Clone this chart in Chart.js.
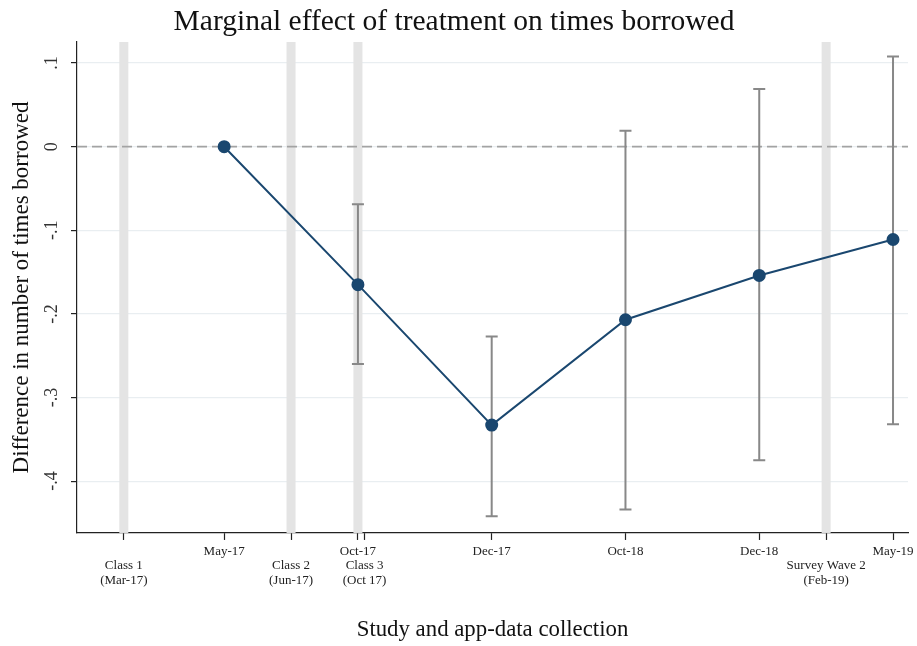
<!DOCTYPE html>
<html>
<head>
<meta charset="utf-8">
<title>Marginal effect of treatment on times borrowed</title>
<script src="https://cdn.jsdelivr.net/npm/chart.js@4.4.1/dist/chart.umd.min.js"></script>
<style>
  html, body { margin: 0; padding: 0; background: #fff; }
  #wrap { width: 917px; height: 646px; }
</style>
</head>
<body>
<div id="wrap"><canvas id="effect"></canvas></div>
<script>
// Estimates by data-collection round
var periods   = ['May-17', 'Oct-17', 'Dec-17', 'Oct-18', 'Dec-18', 'May-19'];
var periodPos = [1, 2, 3, 4, 5, 6];
var estimates = [0, -0.165, -0.333, -0.207, -0.154, -0.111];
var ciLow     = [null, -0.260, -0.442, -0.434, -0.375, -0.332];
var ciHigh    = [null, -0.069, -0.227, 0.019, 0.069, 0.108];

// Study events (grey vertical bands)
var events      = [['Class 1', '(Mar-17)'], ['Class 2', '(Jun-17)'], ['Class 3', '(Oct 17)'], ['Survey Wave 2', '(Feb-19)']];
var eventPos    = [0.25, 1.5, 2.0, 5.5];
var eventTicks  = [0.25, 1.5, 2.05, 5.5];

var yTicks = [-0.4, -0.3, -0.2, -0.1, 0, 0.1];

var serif = '"Liberation Serif", "DejaVu Serif", serif';
var navy = '#1a476f';

function yLabel(v) {
    if (v === 0) return '0';
    var s = (Math.round(v * 10) / 10).toString();
    return s.replace('0.', '.');
}

// x tick list: periods on line one, events on lines two and three
var xTickList = [];
periodPos.forEach(function(p, i) { xTickList.push({ value: p, label: periods[i] }); });
eventTicks.forEach(function(p, i) { xTickList.push({ value: p, label: [''].concat(events[i]) }); });
xTickList.sort(function(a, b) { return a.value - b.value; });

var overlay = {
    id: 'overlay',
    beforeDatasetsDraw: function(chart) {
        var ctx = chart.ctx, area = chart.chartArea;
        var xs = chart.scales.x, ys = chart.scales.y;
        ctx.save();
        // grey bands
        ctx.fillStyle = '#e4e4e4';
        eventPos.forEach(function(p) {
            var px = xs.getPixelForValue(p);
            ctx.fillRect(px - 4.5, area.top, 9, area.bottom - area.top);
        });
        // reference line at zero
        var y0 = ys.getPixelForValue(0);
        ctx.strokeStyle = '#a3a3a3';
        ctx.lineWidth = 1.8;
        ctx.setLineDash([10, 5]);
        ctx.beginPath();
        ctx.moveTo(area.left, y0);
        ctx.lineTo(area.right, y0);
        ctx.stroke();
        ctx.setLineDash([]);
        // confidence intervals
        ctx.strokeStyle = '#888';
        ctx.lineWidth = 2;
        periodPos.forEach(function(p, i) {
            if (ciLow[i] === null) return;
            var px = xs.getPixelForValue(p);
            var top = ys.getPixelForValue(ciHigh[i]);
            var bot = ys.getPixelForValue(ciLow[i]);
            ctx.beginPath();
            ctx.moveTo(px, top); ctx.lineTo(px, bot);
            ctx.moveTo(px - 6, top); ctx.lineTo(px + 6, top);
            ctx.moveTo(px - 6, bot); ctx.lineTo(px + 6, bot);
            ctx.stroke();
        });
        ctx.restore();
    },
    afterDraw: function(chart) {
        // rotated y tick labels
        var ctx = chart.ctx, ys = chart.scales.y;
        ctx.save();
        ctx.fillStyle = '#333';
        ctx.font = '18px ' + serif;
        ctx.textAlign = 'center';
        ctx.textBaseline = 'middle';
        yTicks.forEach(function(v) {
            var py = ys.getPixelForValue(v);
            ctx.save();
            ctx.translate(52, py);
            ctx.rotate(-Math.PI / 2);
            ctx.fillText(yLabel(v), 0, 0);
            ctx.restore();
        });
        ctx.restore();
    }
};

var ctx = document.getElementById('effect');
var chart = new Chart(ctx, {
    type: 'line',
    data: {
        datasets: [{
            label: 'Marginal effect',
            data: periodPos.map(function(p, i) { return { x: p, y: estimates[i] }; }),
            borderColor: navy,
            backgroundColor: navy,
            pointBackgroundColor: navy,
            pointBorderColor: navy,
            pointRadius: 5.5,
            borderWidth: 2,
            tension: 0
        }]
    },
    options: {
        responsive: true,
        maintainAspectRatio: false,
        animation: false,
        layout: { padding: { top: 0, right: 9, bottom: 0, left: 0 } },
        plugins: {
            legend: { display: false },
            tooltip: { enabled: false },
            title: {
                display: true,
                text: 'Marginal effect of treatment on times borrowed',
                color: '#111',
                font: { family: serif, size: 29.5, weight: 'normal', lineHeight: 1.2 },
                padding: { top: 4.3, bottom: 2.3 }
            }
        },
        scales: {
            x: {
                type: 'linear',
                min: -0.1,
                max: 6.112,
                afterBuildTicks: function(scale) {
                    scale.ticks = xTickList.map(function(t) { return { value: t.value }; });
                },
                afterFit: function(scale) {
                    // keep the right edge of the plot where the reference has it
                    scale.paddingRight = Math.min(scale.paddingRight, 9);
                },
                ticks: {
                    autoSkip: false,
                    maxRotation: 0,
                    minRotation: 0,
                    padding: 4,
                    color: '#222',
                    font: { family: serif, size: 13, lineHeight: 1.12 },
                    callback: function(value) {
                        for (var i = 0; i < xTickList.length; i++) {
                            if (Math.abs(xTickList[i].value - value) < 1e-6) return xTickList[i].label;
                        }
                        return '';
                    }
                },
                grid: { drawOnChartArea: false, tickLength: 7, tickColor: '#222', tickWidth: 1.2 },
                border: { color: '#222', width: 1.2 },
                title: {
                    display: true,
                    text: 'Study and app-data collection',
                    color: '#111',
                    font: { family: serif, size: 22.8, lineHeight: 1.2 },
                    padding: { top: 24.5, bottom: 2.5 }
                }
            },
            y: {
                type: 'linear',
                min: -0.462,
                max: 0.1252,
                afterBuildTicks: function(scale) {
                    scale.ticks = yTicks.map(function(v) { return { value: v }; });
                },
                ticks: { display: false },
                grid: { color: '#e9eef1', lineWidth: 1.2, tickLength: 6, tickColor: '#222', tickWidth: 1.2 },
                border: { color: '#222', width: 1.2 },
                title: {
                    display: true,
                    text: 'Difference in number of times borrowed',
                    color: '#111',
                    font: { family: serif, size: 23, lineHeight: 1.2 },
                    padding: { top: 8, bottom: 35.4 }
                }
            }
        }
    },
    plugins: [overlay]
});
</script>
</body>
</html>
